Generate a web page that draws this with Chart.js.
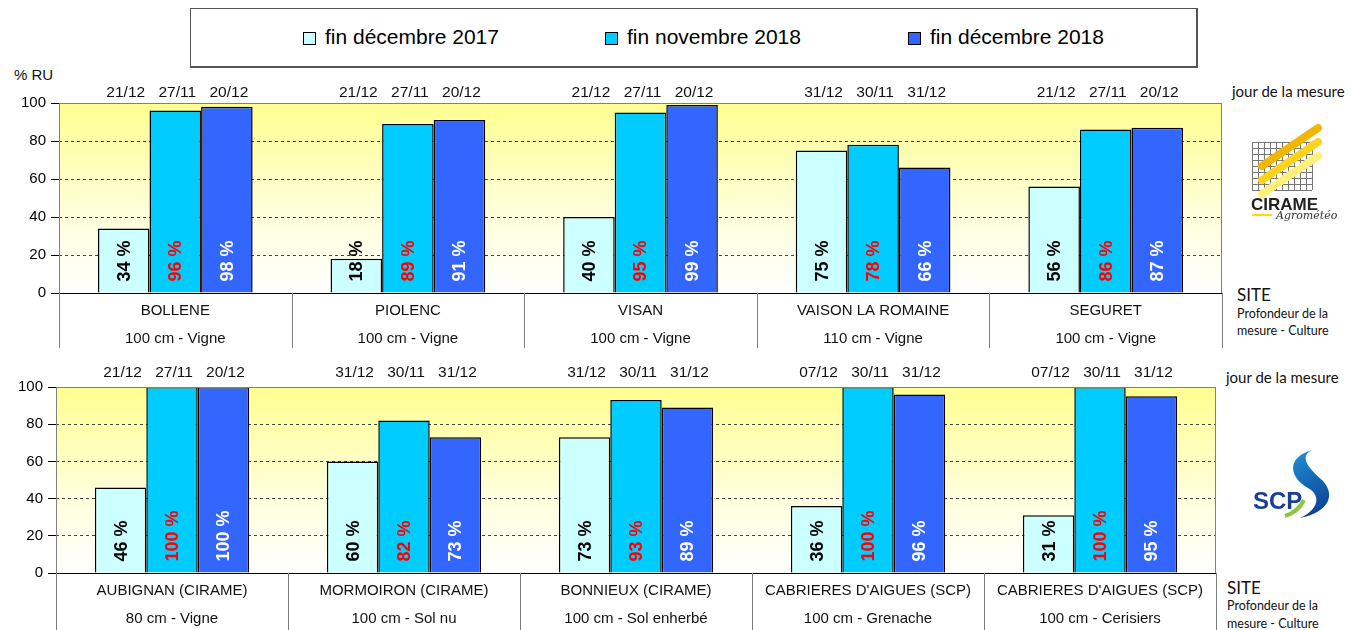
<!DOCTYPE html>
<html>
<head>
<meta charset="utf-8">
<script src="https://cdn.jsdelivr.net/npm/chart.js@4"></script>
<style>
  body { margin: 0; width: 1352px; height: 630px; background: #fff; position: relative; overflow: hidden; font-family: "Liberation Sans", Arial, sans-serif; }
  canvas { position: absolute; left: 0; }
  #chartTop { top: 70px; }
  #chartBot { top: 355px; }
  #legend { position: absolute; left: 190px; top: 8px; width: 1005px; height: 57px; border: 1px solid #555; border-right-width: 2px; border-bottom-width: 2px; }
  .leg { position: absolute; top: -1px; height: 57px; line-height: 57px; font-size: 21px; color: #000; }
  .leg span { display: inline-block; width: 11px; height: 11px; border: 1px solid #000; margin-right: 9px; vertical-align: -1px; }
  .txt { position: absolute; white-space: nowrap; color: #111; }
  .side { font-family: Lato, "Open Sans", sans-serif; }
</style>
</head>
<body>
<div id="legend"></div>

<div class="txt" style="left:14px; top:66px; font-size:15px;">% RU</div>
<div class="txt side" style="left:1232px; top:82px; font-size:15px;">jour de la mesure</div>
<div class="txt side" style="left:1237px; top:284px; font-size:17px;">SITE</div>
<div class="txt side" style="left:1237px; top:305px; font-size:12.5px; line-height:17px;">Profondeur de la<br>mesure - Culture</div>
<div class="txt side" style="left:1226px; top:368px; font-size:15px;">jour de la mesure</div>
<div class="txt side" style="left:1227px; top:577px; font-size:17px;">SITE</div>
<div class="txt side" style="left:1227px; top:597px; font-size:12.5px; line-height:18px;">Profondeur de la<br>mesure - Culture</div>

<canvas id="chartTop" width="1352" height="285"></canvas>
<canvas id="chartBot" width="1352" height="275"></canvas>
<canvas id="logos" width="1352" height="630" style="top:0; pointer-events:none;"></canvas>

<script>
// --- DONNÉES ---
const seriesNames = ['fin décembre 2017', 'fin novembre 2018', 'fin décembre 2018'];
const seriesColors = ['#CCFFFF', '#00CCFF', '#3366FF'];
const labelColors = ['#000000', '#FF0000', '#FFFFFF'];
const yTicks = [0, 20, 40, 60, 80, 100];

// graphique du haut
const sitesTop = ['BOLLENE', 'PIOLENC', 'VISAN', 'VAISON LA ROMAINE', 'SEGURET'];
const culturesTop = ['100 cm - Vigne', '100 cm - Vigne', '100 cm - Vigne', '110 cm - Vigne', '100 cm - Vigne'];
const dec2017Top = [34, 18, 40, 75, 56];
const nov2018Top = [96, 89, 95, 78, 86];
const dec2018Top = [98, 91, 99, 66, 87];
const datesDec2017Top = ['21/12', '21/12', '21/12', '31/12', '21/12'];
const datesNov2018Top = ['27/11', '27/11', '27/11', '30/11', '27/11'];
const datesDec2018Top = ['20/12', '20/12', '20/12', '31/12', '20/12'];

// graphique du bas
const sitesBot = ['AUBIGNAN (CIRAME)', 'MORMOIRON (CIRAME)', 'BONNIEUX (CIRAME)', "CABRIERES D'AIGUES (SCP)", "CABRIERES D'AIGUES (SCP)"];
const culturesBot = ['80 cm - Vigne', '100 cm - Sol nu', '100 cm - Sol enherbé', '100 cm - Grenache', '100 cm - Cerisiers'];
const dec2017Bot = [46, 60, 73, 36, 31];
const nov2018Bot = [100, 82, 93, 100, 100];
const dec2018Bot = [100, 73, 89, 96, 95];
const datesDec2017Bot = ['21/12', '31/12', '31/12', '07/12', '07/12'];
const datesNov2018Bot = ['27/11', '30/11', '30/11', '30/11', '30/11'];
const datesDec2018Bot = ['20/12', '31/12', '31/12', '31/12', '31/12'];

// --- LÉGENDE ---
const legendPos = [303, 605, 908];
document.getElementById('legend').innerHTML = seriesNames.map((n, i) =>
  `<div class="leg" style="left:${legendPos[i] - 191}px"><span style="background:${seriesColors[i]}"></span>${n}</div>`
).join('');

// --- PLUGIN : fond, étiquettes, tableau ---
const decorPlugin = {
  id: 'decor',
  beforeDraw(chart) {
    const { ctx, chartArea: a } = chart;
    const g = ctx.createLinearGradient(0, a.top, 0, a.bottom);
    g.addColorStop(0, '#FFFF90');
    g.addColorStop(0.55, '#FFFFD8');
    g.addColorStop(1, '#FFFFFF');
    ctx.save();
    ctx.fillStyle = g;
    ctx.fillRect(a.left, a.top, a.right - a.left, a.bottom - a.top);
    ctx.restore();
  },
  afterDraw(chart, args, opts) {
    const { ctx, chartArea: a } = chart;
    ctx.save();
    // cadre
    ctx.strokeStyle = '#808080'; ctx.lineWidth = 1;
    ctx.strokeRect(a.left + 0.5, a.top + 0.5, a.right - a.left - 1, a.bottom - a.top);
    ctx.strokeStyle = '#000';
    ctx.beginPath(); ctx.moveTo(a.left, a.bottom + 0.5); ctx.lineTo(a.right, a.bottom + 0.5); ctx.stroke();

    // étiquettes des barres
    chart.data.datasets.forEach((ds, i) => {
      chart.getDatasetMeta(i).data.forEach((bar, j) => {
        ctx.fillStyle = labelColors[i];
        ctx.font = 'bold 18px "Liberation Sans", Arial';
        ctx.save();
        ctx.translate(bar.x + 1, bar.base - 11);
        ctx.rotate(-Math.PI / 2);
        ctx.textAlign = 'left'; ctx.textBaseline = 'middle';
        ctx.fillText(ds.data[j] + ' %', 0, 0);
        ctx.restore();
        // date de mesure
        ctx.fillStyle = '#111';
        ctx.font = '15.5px "Liberation Sans", Arial';
        ctx.textAlign = 'center'; ctx.textBaseline = 'middle';
        ctx.fillText(opts.dates[i][j], bar.x + 2, a.top - opts.dateOffset);
      });
    });

    // tableau sous l'axe
    const n = chart.data.labels.length;
    const w = (a.right - a.left) / n;
    ctx.strokeStyle = '#808080';
    for (let k = 0; k <= n; k++) {
      const x = Math.round(a.left + k * w) + 0.5;
      ctx.beginPath(); ctx.moveTo(x, a.bottom); ctx.lineTo(x, a.bottom + opts.tableH); ctx.stroke();
    }
    ctx.fillStyle = '#111';
    ctx.font = '15px "Liberation Sans", Arial';
    ctx.textAlign = 'center'; ctx.textBaseline = 'middle';
    chart.data.labels.forEach((lab, k) => {
      const cx = a.left + (k + 0.5) * w;
      ctx.fillText(lab, cx, a.bottom + 18);
      ctx.fillText(opts.cultures[k], cx, a.bottom + 46);
    });
    ctx.restore();
  }
};

function makeChart(id, sites, cultures, values, dates, pad, yWidth, tableH, dateOffset) {
  return new Chart(document.getElementById(id), {
    type: 'bar',
    data: {
      labels: sites,
      datasets: values.map((v, i) => ({
        label: seriesNames[i], data: v,
        backgroundColor: seriesColors[i], borderColor: '#000', borderWidth: 1.5,
        categoryPercentage: 0.665, barPercentage: 1.0
      }))
    },
    options: {
      responsive: false, animation: false, devicePixelRatio: 1,
      layout: { padding: pad },
      plugins: { legend: { display: false }, tooltip: { enabled: false },
        decor: { dates: dates, cultures: cultures, tableH: tableH, dateOffset: dateOffset } },
      scales: {
        x: { display: false, grid: { display: false } },
        y: {
          min: 0, max: 100,
          afterFit: (s) => { s.width = yWidth; },
          afterBuildTicks: (s) => { s.ticks = yTicks.map(v => ({ value: v })); },
          ticks: { color: '#000', font: { family: '"Liberation Sans", Arial', size: 15 }, padding: 5 },
          grid: {
            color: (c) => (c.tick && (c.tick.value === 0 || c.tick.value === 100)) ? 'rgba(0,0,0,0)' : '#444',
            tickColor: '#000', tickLength: 8, tickBorderDash: [], lineWidth: 1
          },
          border: { display: false, dash: [3, 3] }
        }
      }
    },
    plugins: [decorPlugin]
  });
}

makeChart('chartTop', sitesTop, culturesTop, [dec2017Top, nov2018Top, dec2018Top],
  [datesDec2017Top, datesNov2018Top, datesDec2018Top],
  { top: 33, right: 130, bottom: 62, left: 0 }, 59, 55, 10);
makeChart('chartBot', sitesBot, culturesBot, [dec2017Bot, nov2018Bot, dec2018Bot],
  [datesDec2017Bot, datesNov2018Bot, datesDec2018Bot],
  { top: 32, right: 136, bottom: 57, left: 0 }, 56, 57, 14.5);

// --- LOGOS (esquisse) ---
const lg = document.getElementById('logos').getContext('2d');
// CIRAME : grille + traits jaunes
lg.strokeStyle = '#777'; lg.lineWidth = 1;
for (let i = 0; i <= 10; i++) {
  lg.beginPath(); lg.moveTo(1252 + i * 6 + 0.5, 142); lg.lineTo(1252 + i * 6 + 0.5, 190); lg.stroke();
}
for (let i = 0; i <= 8; i++) {
  lg.beginPath(); lg.moveTo(1252, 142 + i * 6 + 0.5); lg.lineTo(1312, 142 + i * 6 + 0.5); lg.stroke();
}
[['#F2B705', 0], ['#FFD21F', 14], ['#FFF07A', 28]].forEach(([c, off]) => {
  lg.strokeStyle = c; lg.lineWidth = 8; lg.lineCap = 'round';
  lg.beginPath(); lg.moveTo(1262, 166 + off); lg.lineTo(1318, 128 + off); lg.stroke();
});
lg.fillStyle = '#222'; lg.font = 'bold 17px "Liberation Sans", Arial'; lg.textBaseline = 'middle';
lg.fillText('CIRAME', 1251, 205);
lg.strokeStyle = '#F5E000'; lg.lineWidth = 2; lg.lineCap = 'butt';
lg.beginPath(); lg.moveTo(1252, 215); lg.lineTo(1272, 215); lg.stroke();
lg.fillStyle = '#333'; lg.font = 'italic 11px "DejaVu Serif", serif';
lg.fillText('Agrométéo', 1276, 216);
// SCP : courbe bleue + texte
const sg = lg.createLinearGradient(1300, 450, 1330, 515);
sg.addColorStop(0, '#1F8FD6'); sg.addColorStop(1, '#0A3A8C');
lg.fillStyle = sg;
lg.beginPath();
lg.moveTo(1312, 450);
lg.bezierCurveTo(1285, 458, 1290, 478, 1308, 488);
lg.bezierCurveTo(1322, 496, 1318, 510, 1300, 518);
lg.bezierCurveTo(1330, 512, 1336, 494, 1322, 480);
lg.bezierCurveTo(1306, 466, 1300, 456, 1312, 450);
lg.fill();
lg.fillStyle = '#1A3F94'; lg.font = 'bold 24px "Liberation Sans", Arial';
lg.fillText('SCP', 1253, 502);
lg.strokeStyle = '#8CC63F'; lg.lineWidth = 4;
lg.beginPath(); lg.moveTo(1285, 516); lg.quadraticCurveTo(1298, 512, 1304, 500); lg.stroke();
</script>
</body>
</html>
